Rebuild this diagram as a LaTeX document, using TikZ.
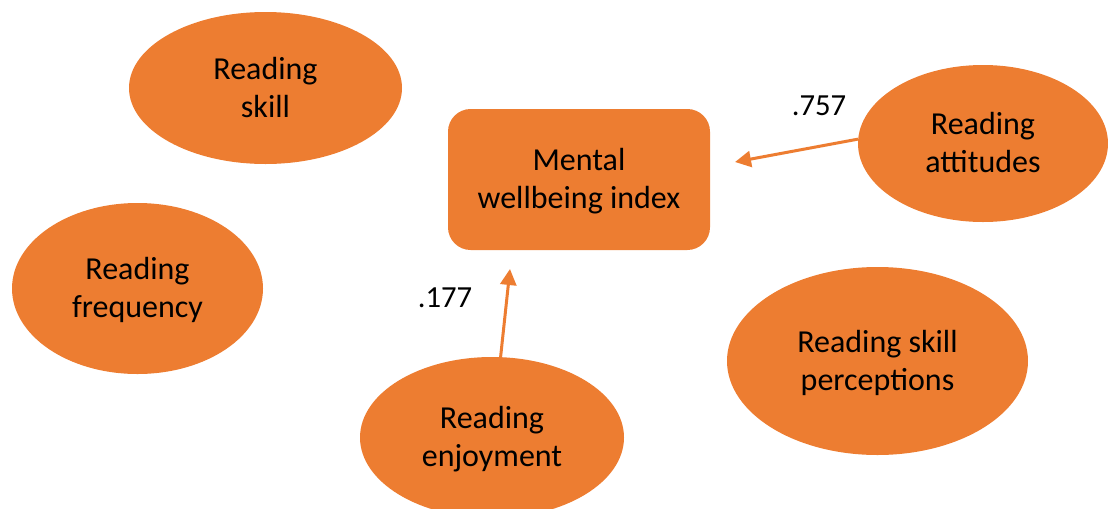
\documentclass[tikz,border=0pt]{standalone}
\usepackage{fontspec}
\setmainfont{Carlito}
\usepackage{tikz}
\usetikzlibrary{arrows.meta,positioning,shapes}
\definecolor{pathorange}{RGB}{237,125,49}

\begin{document}
\begin{tikzpicture}[x=0.75pt,y=-0.75pt,
    factor/.style={draw=none,ellipse,fill=pathorange,align=center,inner sep=0pt,
        text height=43.8pt,text depth=0pt,font=\fontsize{24}{28.5}\selectfont},
    outcome/.style={draw=none,rectangle,rounded corners=17pt,fill=pathorange,align=center,
        minimum width=196.5pt,minimum height=105.75pt,
        text height=43.8pt,text depth=0pt,font=\fontsize{24}{28.5}\selectfont},
    link/.style={-{Triangle[length=12pt,width=12pt]},line width=2.25pt,pathorange},
    coef/.style={font=\fontsize{23}{26}\selectfont}]
    \useasboundingbox (0,0) rectangle (1108,508);
    % Predictors
    \node[factor,minimum width=204.75pt,minimum height=114pt] (skill) at (265.5,88) {Reading\\skill};
    \node[factor,minimum width=188.25pt,minimum height=128.25pt] (freq) at (137.5,288.5) {Reading\\frequency};
    \node[factor,minimum width=187.5pt,minimum height=117.75pt] (att) at (983,143.5) {Reading\\attitudes};
    \node[factor,minimum width=225.75pt,minimum height=141pt] (perc) at (877.5,361) {Reading skill\\perceptions};
    \node[factor,minimum width=198pt,minimum height=120.75pt] (enj) at (492,437.5) {Reading\\enjoyment};

    % Outcome
    \node[outcome] (mwi) at (579,179.5) {Mental\\wellbeing index};

    % Paths - arrows stop short of the box
    \coordinate (attend) at (735,162);
    \coordinate (enjend) at (510,269);
    \draw[link] (att.178) -- (attend);
    \draw[link] (enj) -- (enjend);

    \node[coef] (attcoef) at (819,106) {.757};
    \node[coef] (enjcoef) at (445,297.5) {.177};
\end{tikzpicture}
\end{document}
